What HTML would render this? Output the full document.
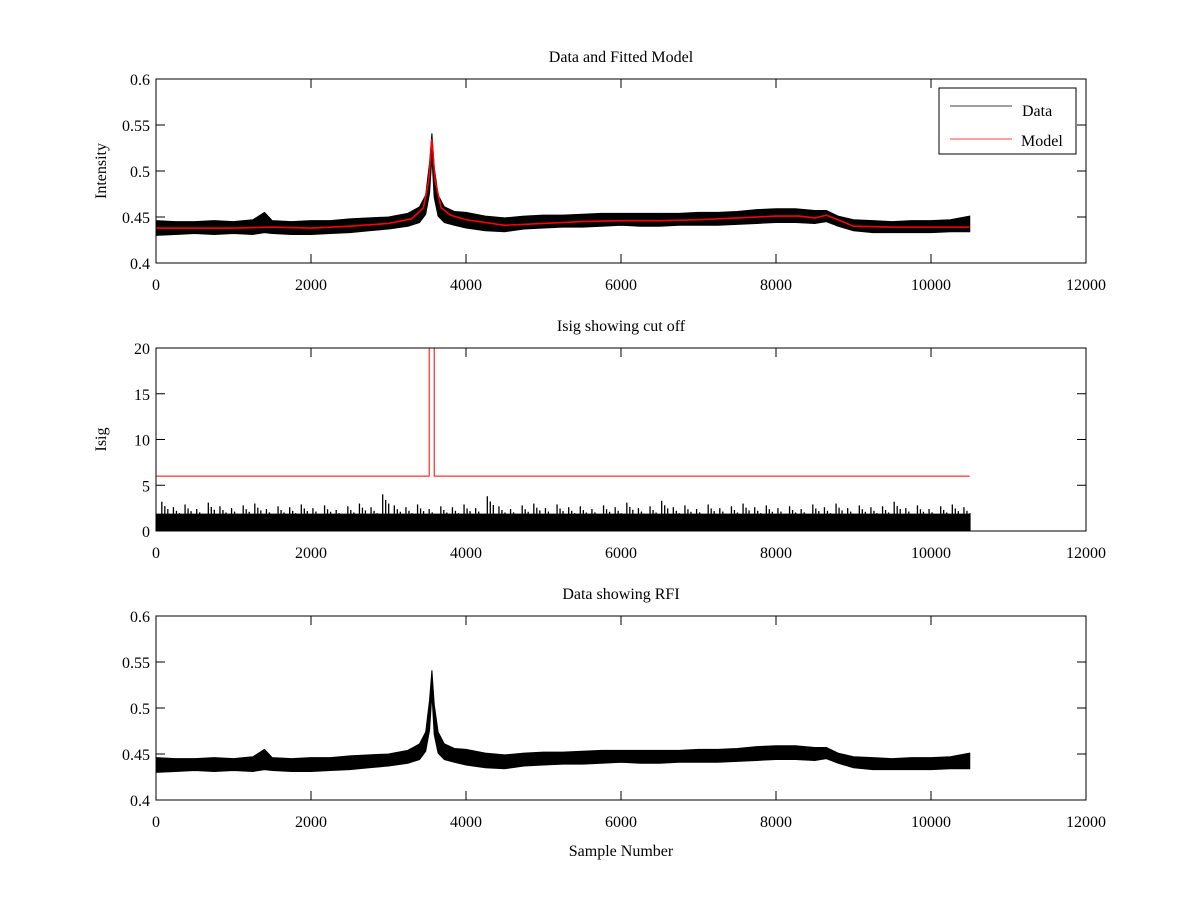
<!DOCTYPE html>
<html><head><meta charset="utf-8"><style>
body{margin:0;background:#fff}
svg text{font-family:"Liberation Serif",serif;font-size:16px;fill:#000}
</style></head><body>
<svg id="c" width="1200" height="900" xmlns="http://www.w3.org/2000/svg"></svg>
<script>
const xTicks=[0,2000,4000,6000,8000,10000,12000];
const intTicks=[0.4,0.45,0.5,0.55,0.6];
const intTickLabels=["0.4","0.45","0.5","0.55","0.6"];
const isigTicks=[0,5,10,15,20];
const modelX=[0,500,1000,1500,2000,2500,3000,3300,3450,3520,3560,3600,3680,3800,4000,4500,5000,5500,6000,6500,7000,7500,8000,8300,8500,8650,8800,9000,9500,10000,10500];
const modelY=[0.438,0.438,0.438,0.439,0.438,0.44,0.443,0.448,0.46,0.49,0.535,0.49,0.46,0.452,0.447,0.441,0.443,0.445,0.446,0.446,0.447,0.449,0.451,0.451,0.449,0.452,0.447,0.44,0.439,0.439,0.439];
const dataX=[0,250,500,750,1000,1250,1400,1500,1750,2000,2250,2500,2750,3000,3250,3400,3480,3530,3560,3590,3640,3720,3850,4000,4250,4500,4750,5000,5250,5500,5750,6000,6250,6500,6750,7000,7250,7500,7750,8000,8250,8500,8650,8800,9000,9250,9500,9750,10000,10250,10500];
const dataLow=[0.430,0.431,0.432,0.431,0.432,0.431,0.433,0.432,0.431,0.431,0.432,0.433,0.435,0.437,0.440,0.444,0.453,0.476,0.515,0.471,0.451,0.444,0.441,0.438,0.435,0.434,0.437,0.438,0.439,0.439,0.440,0.441,0.440,0.440,0.441,0.441,0.441,0.442,0.443,0.444,0.444,0.443,0.445,0.440,0.435,0.433,0.433,0.433,0.433,0.434,0.434];
const dataHigh=[0.446,0.445,0.445,0.446,0.445,0.447,0.455,0.446,0.445,0.446,0.446,0.448,0.449,0.450,0.454,0.461,0.474,0.509,0.541,0.504,0.474,0.461,0.456,0.455,0.451,0.449,0.451,0.452,0.452,0.453,0.454,0.454,0.454,0.454,0.454,0.455,0.455,0.456,0.458,0.459,0.459,0.457,0.457,0.451,0.447,0.446,0.445,0.446,0.446,0.447,0.451];
const isigPeaks=[3.2,2.6,2.9,2.4,3.1,2.7,2.5,2.8,3.0,2.4,2.7,2.6,2.9,2.5,2.8,2.3,2.7,3.0,2.6,4.0,2.8,2.6,2.9,2.4,2.7,2.6,2.9,2.5,3.8,2.7,2.4,2.8,3.0,2.5,2.9,2.6,2.7,2.4,2.8,2.6,3.1,2.5,2.7,3.3,2.6,2.8,2.4,2.9,2.5,2.7,3.0,2.6,2.8,2.5,2.7,2.4,2.9,2.6,3.0,2.5,2.8,2.6,2.7,3.2,2.5,2.8,2.4,2.7,2.9,2.6];
const threshX=[0,3525,3525,3590,3590,10500];
const threshY=[6,6,25,25,6,6];

const svg=document.getElementById('c');const NS='http://www.w3.org/2000/svg';
function el(t,a,p){const e=document.createElementNS(NS,t);for(const k in a)e.setAttribute(k,a[k]);(p||svg).appendChild(e);return e;}
const L=156,R=1086;
const sx=v=>L+(v/12000)*(R-L);
function panel(name,top,bot,y0,y1,yt,ytl,title,ylab){
  const g=el('g',{});
  
  
  const sy=v=>bot-(v-y0)/(y1-y0)*(bot-top);
  const clip=el('clipPath',{id:'cl'+name},g);el('rect',{x:L,y:top,width:R-L,height:bot-top},clip);
  const pg=el('g',{'clip-path':'url(#cl'+name+')'},g);
  const ax=el('g',{},g);
  el('rect',{x:L,y:top,width:R-L,height:bot-top,fill:'none',stroke:'#000','stroke-width':1},ax);
  xTicks.forEach(v=>{const x=sx(v);
    el('line',{x1:x,x2:x,y1:bot,y2:bot-9,stroke:'#000'},ax);el('line',{x1:x,x2:x,y1:top,y2:top+9,stroke:'#000'},ax);
    const t=el('text',{x:x,y:bot+27,'text-anchor':'middle'},ax);t.textContent=v;});
  yt.forEach((v,i)=>{const y=sy(v);
    el('line',{x1:L,x2:L+9,y1:y,y2:y,stroke:'#000'},ax);el('line',{x1:R,x2:R-9,y1:y,y2:y,stroke:'#000'},ax);
    const t=el('text',{x:L-6,y:y+6,'text-anchor':'end'},ax);t.textContent=ytl[i];});
  const tt=el('text',{x:621,y:top-17,'text-anchor':'middle'},g);tt.textContent=title;
  
  
  if(ylab){const yl=el('text',{x:0,y:0,'text-anchor':'middle',transform:`translate(106 ${(top+bot)/2}) rotate(-90)`},g);yl.textContent=ylab;
    
    }
  return {pg,sy};
}
function band(p,sy,nm){
  let pts=dataX.map((x,i)=>sx(x)+','+sy(dataHigh[i]));
  for(let i=dataX.length-1;i>=0;i--)pts.push(sx(dataX[i])+','+sy(dataLow[i]));
  const b=el('polygon',{points:pts.join(' '),fill:'#000',stroke:'#000','stroke-width':1},p.pg);
  
  
}
const p1=panel('fit-panel',79,263,0.4,0.6,intTicks,intTickLabels,'Data and Fitted Model','Intensity');
band(p1,p1.sy,'data-series');
const m=el('polyline',{points:modelX.map((x,i)=>sx(x)+','+p1.sy(modelY[i])).join(' '),fill:'none',stroke:'#f00','stroke-width':1.6},p1.pg);


const lg=el('g',{});


el('rect',{x:939,y:88,width:137,height:66,fill:'#fff',stroke:'#000'},lg);
el('line',{x1:950,x2:1012,y1:106,y2:106,stroke:'#000','stroke-width':0.8},lg);
el('line',{x1:950,x2:1012,y1:139,y2:139,stroke:'#f00','stroke-width':0.8},lg);
let t=el('text',{x:1022,y:116},lg);t.textContent='Data';
t=el('text',{x:1021,y:146},lg);t.textContent='Model';
const p2=panel('isig-panel',348,531,0,20,isigTicks,isigTicks.map(String),'Isig showing cut off','Isig');
const step=10500/isigPeaks.length;
const base=el('rect',{x:sx(0),y:p2.sy(1.9),width:sx(10500)-sx(0),height:p2.sy(0)-p2.sy(1.9),fill:'#000'},p2.pg);


isigPeaks.forEach((v,i)=>{const x=sx(i*step+step/2);
  const ln=el('line',{x1:x,x2:x,y1:p2.sy(0),y2:p2.sy(v),stroke:'#000','stroke-width':1.3},p2.pg);
  
  
  const ln2=el('line',{x1:x+3,x2:x+3,y1:p2.sy(0),y2:p2.sy(v*0.85),stroke:'#000','stroke-width':1.3},p2.pg);
  
  
  const ln3=el('line',{x1:x+6,x2:x+6,y1:p2.sy(0),y2:p2.sy(v*0.75),stroke:'#000','stroke-width':1.3},p2.pg);
  
  });
const th=el('polyline',{points:threshX.map((x,i)=>sx(x)+','+p2.sy(threshY[i])).join(' '),fill:'none',stroke:'#f00','stroke-width':1},p2.pg);


const p3=panel('rfi-panel',616,800,0.4,0.6,intTicks,intTickLabels,'Data showing RFI',null);
band(p3,p3.sy,'rfi-data-series');
const xl=el('text',{x:621,y:856,'text-anchor':'middle'});xl.textContent='Sample Number';


</script>
</body></html>
